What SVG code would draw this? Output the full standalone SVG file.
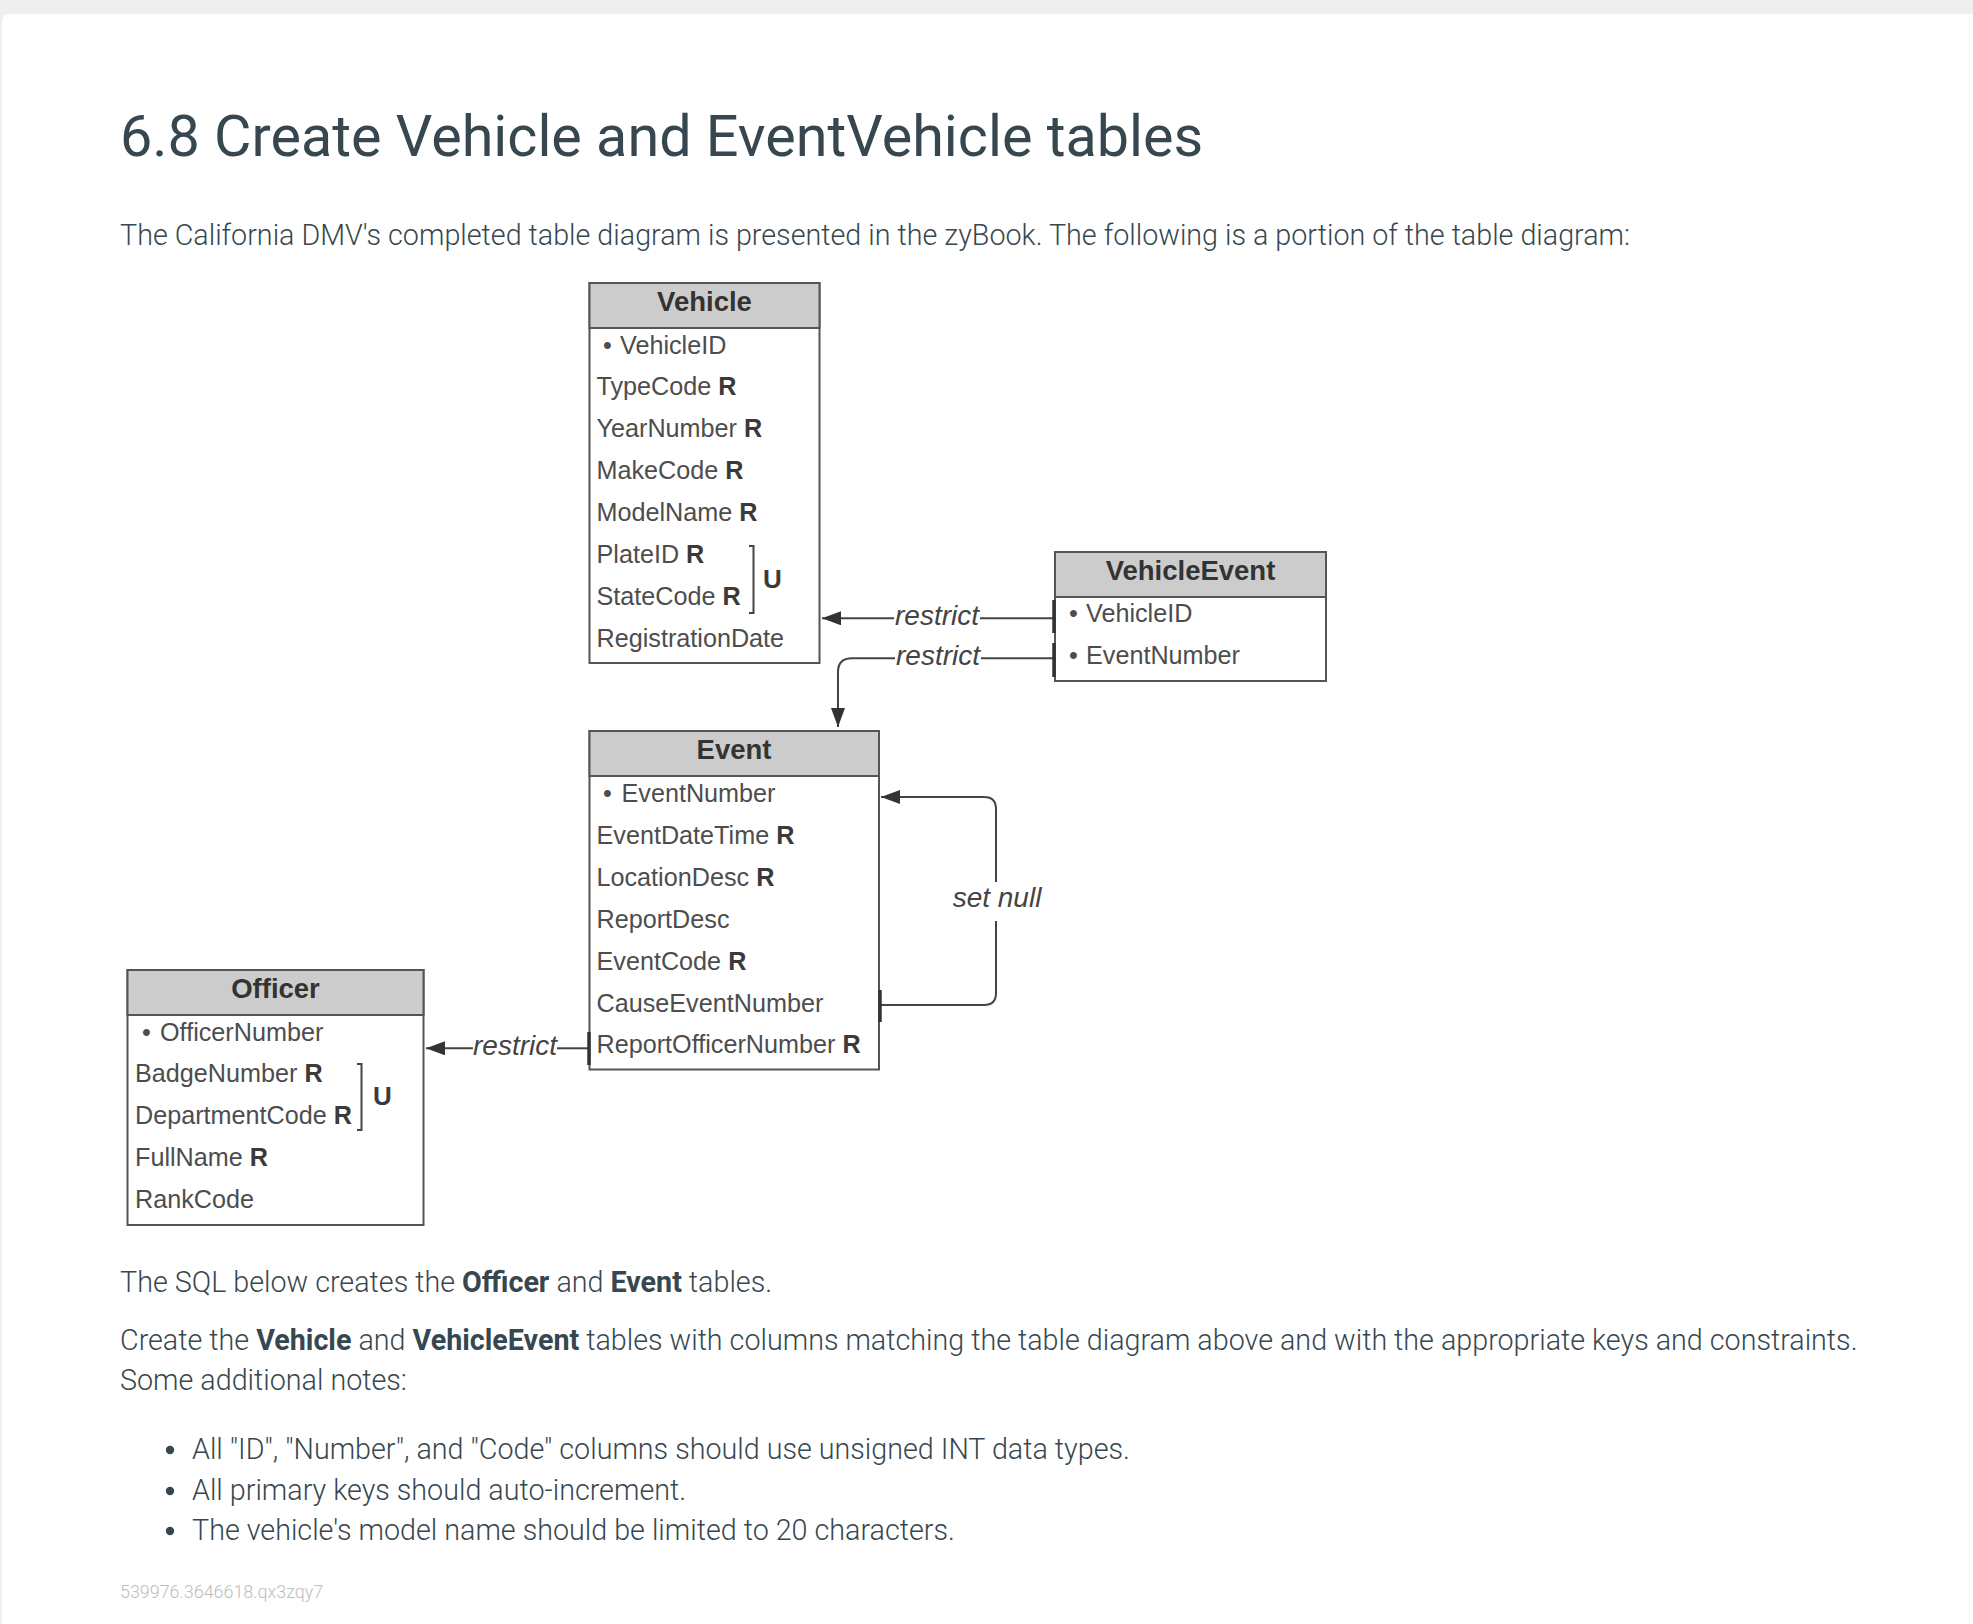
<svg xmlns="http://www.w3.org/2000/svg" width="1973" height="1624" viewBox="0 0 1973 1624">
<style>
.page{fill:#ffffff}
.title{font-family:Roboto,"Liberation Sans",sans-serif;font-size:57.5px;font-weight:400;fill:#37474f}
.body{font-family:Roboto,"Liberation Sans",sans-serif;font-size:28.7px;font-weight:300;fill:#37474f}
.b{font-weight:700}
.foot{font-family:Roboto,"Liberation Sans",sans-serif;font-size:17.9px;font-weight:300;fill:#bdbdbd}
.box{fill:#ffffff;stroke:#555555;stroke-width:2}
.head{fill:#cccccc;stroke:#555555;stroke-width:2}
.hdr{font-family:"Liberation Sans",Arial,sans-serif;font-size:27.5px;font-weight:700;fill:#333333;text-anchor:middle}
.row{font-family:"Liberation Sans",Arial,sans-serif;font-size:25.2px;fill:#4d4d4d}
.rb{font-weight:700;fill:#3a3a3a}
.u{font-family:"Liberation Sans",Arial,sans-serif;font-size:26px;font-weight:700;fill:#3a3a3a}
.brk{fill:none;stroke:#444444;stroke-width:2}
.lbl{font-family:"Liberation Sans",Arial,sans-serif;font-size:28px;font-style:italic;fill:#444444;text-anchor:middle}
.conn{fill:none;stroke:#444444;stroke-width:2}
.tick{stroke:#333333;stroke-width:3.5}
</style>
<defs>
<marker id="arr" markerUnits="userSpaceOnUse" viewBox="0 0 19 14" refX="19" refY="7" markerWidth="19" markerHeight="14" orient="auto">
<path d="M0,0 L19,7 L0,14 Z" fill="#333333"/>
</marker>
</defs>
<rect x="0" y="0" width="1973" height="1624" fill="#efefef"/>
<path class="page" d="M2,22 Q2,14 10,14 H1973 V1624 H2 Z"/>

<text class="title" x="120" y="156">6.8 Create Vehicle and EventVehicle tables</text>
<text class="body" x="120" y="245">The California DMV's completed table diagram is presented in the zyBook. The following is a portion of the table diagram:</text>

<g id="Vehicle">
<rect class="box" x="589.5" y="283" width="230" height="380"/>
<rect class="head" x="589.5" y="283" width="230" height="45"/>
<text class="hdr" x="704.5" y="311">Vehicle</text>
<text class="row" x="603" y="353.5">•</text>
<text class="row" x="620" y="353.5">VehicleID</text>
<text class="row" x="596.5" y="395.4">TypeCode <tspan class="rb">R</tspan></text>
<text class="row" x="596.5" y="437.3">YearNumber <tspan class="rb">R</tspan></text>
<text class="row" x="596.5" y="479.2">MakeCode <tspan class="rb">R</tspan></text>
<text class="row" x="596.5" y="521.1">ModelName <tspan class="rb">R</tspan></text>
<text class="row" x="596.5" y="563">PlateID <tspan class="rb">R</tspan></text>
<text class="row" x="596.5" y="604.9">StateCode <tspan class="rb">R</tspan></text>
<text class="row" x="596.5" y="646.8">RegistrationDate</text>
<path class="brk" d="M749,546 H753.5 V613 H749"/>
<text class="u" x="763" y="588">U</text>
</g>

<g id="VehicleEvent">
<rect class="box" x="1055" y="552" width="271" height="129"/>
<rect class="head" x="1055" y="552" width="271" height="45"/>
<text class="hdr" x="1190.5" y="580">VehicleEvent</text>
<text class="row" x="1069" y="622">•</text>
<text class="row" x="1086" y="622">VehicleID</text>
<text class="row" x="1069" y="663.5">•</text>
<text class="row" x="1086" y="663.5">EventNumber</text>
</g>

<g id="Event">
<rect class="box" x="589.5" y="731" width="289.5" height="338.5"/>
<rect class="head" x="589.5" y="731" width="289.5" height="45"/>
<text class="hdr" x="734" y="759">Event</text>
<text class="row" x="603" y="802">•</text>
<text class="row" x="621.5" y="802">EventNumber</text>
<text class="row" x="596.5" y="843.9">EventDateTime <tspan class="rb">R</tspan></text>
<text class="row" x="596.5" y="885.8">LocationDesc <tspan class="rb">R</tspan></text>
<text class="row" x="596.5" y="927.7">ReportDesc</text>
<text class="row" x="596.5" y="969.6">EventCode <tspan class="rb">R</tspan></text>
<text class="row" x="596.5" y="1011.5">CauseEventNumber</text>
<text class="row" x="596.5" y="1053.4">ReportOfficerNumber <tspan class="rb">R</tspan></text>
</g>

<g id="Officer">
<rect class="box" x="127.5" y="970" width="296" height="255"/>
<rect class="head" x="127.5" y="970" width="296" height="45"/>
<text class="hdr" x="275.5" y="998">Officer</text>
<text class="row" x="142" y="1040.5">•</text>
<text class="row" x="160" y="1040.5">OfficerNumber</text>
<text class="row" x="135" y="1082.3">BadgeNumber <tspan class="rb">R</tspan></text>
<text class="row" x="135" y="1124.1">DepartmentCode <tspan class="rb">R</tspan></text>
<text class="row" x="135" y="1165.9">FullName <tspan class="rb">R</tspan></text>
<text class="row" x="135" y="1207.7">RankCode</text>
<path class="brk" d="M357,1064 H361.5 V1130 H357"/>
<text class="u" x="373" y="1105">U</text>
</g>

<g id="connectors">
<path class="conn" d="M1054,618.3 H980"/>
<path class="conn" d="M894,618.3 H822" marker-end="url(#arr)"/>
<text class="lbl" x="937" y="625">restrict</text>
<line class="tick" x1="1054" y1="600" x2="1054" y2="633"/>

<path class="conn" d="M1054,658.3 H981"/>
<path class="conn" d="M895,658.3 H852 Q838,658.3 838,672 V727" marker-end="url(#arr)"/>
<text class="lbl" x="938" y="665">restrict</text>
<line class="tick" x1="1054" y1="643" x2="1054" y2="677"/>

<path class="conn" d="M879,1005 H984 Q996,1005 996,993 V921"/>
<path class="conn" d="M996,882 V809 Q996,797 984,797 H881" marker-end="url(#arr)"/>
<text class="lbl" x="997" y="907">set null</text>
<line class="tick" x1="880" y1="990" x2="880" y2="1022"/>

<path class="conn" d="M589,1048.3 H557"/>
<path class="conn" d="M473,1048.3 H426" marker-end="url(#arr)"/>
<text class="lbl" x="515" y="1055">restrict</text>
<line class="tick" x1="589" y1="1032" x2="589" y2="1065"/>
</g>

<text class="body" x="120" y="1292">The SQL below creates the <tspan class="b">Officer</tspan> and <tspan class="b">Event</tspan> tables.</text>
<text class="body" x="120" y="1350">Create the <tspan class="b">Vehicle</tspan> and <tspan class="b">VehicleEvent</tspan> tables with columns matching the table diagram above and with the appropriate keys and constraints.</text>
<text class="body" x="120" y="1390">Some additional notes:</text>
<circle cx="170" cy="1450" r="4.2" fill="#37474f"/>
<text class="body" x="192" y="1459">All "ID", "Number", and "Code" columns should use unsigned INT data types.</text>
<circle cx="170" cy="1491" r="4.2" fill="#37474f"/>
<text class="body" x="192" y="1500">All primary keys should auto-increment.</text>
<circle cx="170" cy="1531" r="4.2" fill="#37474f"/>
<text class="body" x="192" y="1540">The vehicle's model name should be limited to 20 characters.</text>
<text class="foot" x="120" y="1598">539976.3646618.qx3zqy7</text>
</svg>
